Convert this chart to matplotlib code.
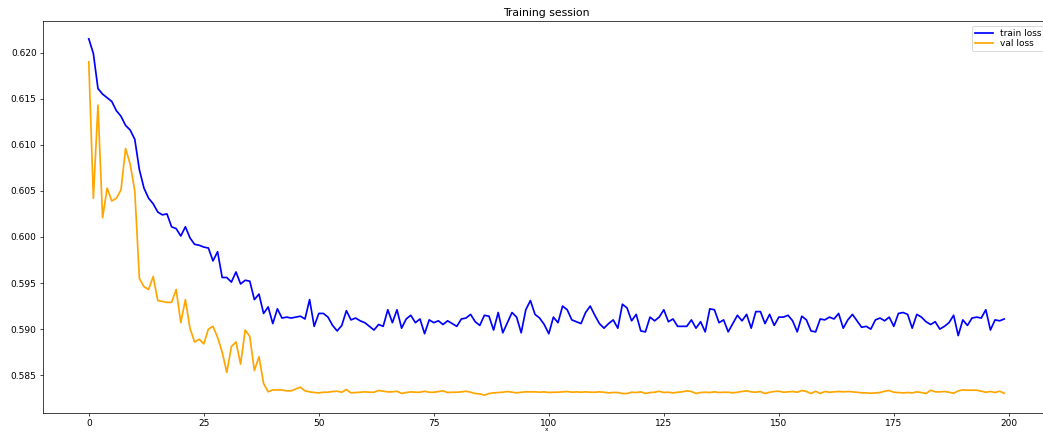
import numpy as np
import matplotlib
matplotlib.use("Agg")
import matplotlib.pyplot as plt

epochs = np.arange(200)

train_loss = [
    0.6215, 0.6199, 0.6161, 0.6155, 0.6151, 0.6147, 0.6137, 0.6131, 0.6121, 0.6116,
    0.6106, 0.6073, 0.6053, 0.6042, 0.6036, 0.6027, 0.6024, 0.6025, 0.6011, 0.6009,
    0.6001, 0.6011, 0.5999, 0.5992, 0.5991, 0.5989, 0.5988, 0.5974, 0.5984, 0.5956,
    0.5956, 0.5951, 0.5962, 0.5949, 0.5953, 0.5952, 0.5932, 0.5938, 0.5917, 0.5924,
    0.5906, 0.5922, 0.5912, 0.5913, 0.5912, 0.5913, 0.5914, 0.5911, 0.5932, 0.5903,
    0.5917, 0.5917, 0.5913, 0.5904, 0.5898, 0.5904, 0.5920, 0.5910, 0.5912, 0.5909,
    0.5907, 0.5903, 0.5899, 0.5905, 0.5903, 0.5921, 0.5907, 0.5921, 0.5901, 0.5911,
    0.5915, 0.5907, 0.5911, 0.5895, 0.5910, 0.5907, 0.5909, 0.5905, 0.5909, 0.5906,
    0.5903, 0.5911, 0.5912, 0.5916, 0.5908, 0.5904, 0.5915, 0.5914, 0.5899, 0.5918,
    0.5896, 0.5907, 0.5918, 0.5913, 0.5896, 0.5921, 0.5931, 0.5916, 0.5912, 0.5905,
    0.5895, 0.5913, 0.5907, 0.5925, 0.5921, 0.5910, 0.5908, 0.5906, 0.5918, 0.5925,
    0.5915, 0.5906, 0.5901, 0.5906, 0.5910, 0.5901, 0.5927, 0.5923, 0.5909, 0.5916,
    0.5898, 0.5897, 0.5913, 0.5909, 0.5913, 0.5921, 0.5908, 0.5911, 0.5903, 0.5903,
    0.5903, 0.5910, 0.5901, 0.5908, 0.5897, 0.5922, 0.5921, 0.5907, 0.5910, 0.5897,
    0.5906, 0.5915, 0.5909, 0.5916, 0.5901, 0.5919, 0.5919, 0.5906, 0.5916, 0.5904,
    0.5913, 0.5913, 0.5915, 0.5909, 0.5897, 0.5914, 0.5910, 0.5898, 0.5897, 0.5911,
    0.5910, 0.5913, 0.5911, 0.5917, 0.5901, 0.5910, 0.5916, 0.5909, 0.5902, 0.5903,
    0.5900, 0.5910, 0.5912, 0.5909, 0.5913, 0.5903, 0.5917, 0.5918, 0.5916, 0.5901,
    0.5916, 0.5913, 0.5908, 0.5905, 0.5908, 0.5900, 0.5903, 0.5907, 0.5915, 0.5893,
    0.5910, 0.5904, 0.5912, 0.5913, 0.5912, 0.5921, 0.5899, 0.5910, 0.5909, 0.5911,
]

val_loss = [
    0.6190, 0.6042, 0.6143, 0.6021, 0.6053, 0.6039, 0.6042, 0.6051, 0.6096, 0.6079,
    0.6050, 0.5955, 0.5946, 0.5943, 0.5957, 0.5931, 0.5930, 0.5929, 0.5929, 0.5943,
    0.5907, 0.5932, 0.5901, 0.5886, 0.5889, 0.5884, 0.5900, 0.5903, 0.5891, 0.5875,
    0.5853, 0.5881, 0.5886, 0.5862, 0.5899, 0.5892, 0.5855, 0.5870, 0.5841, 0.5832,
    0.5834, 0.5834, 0.5834, 0.5833, 0.5833, 0.5835, 0.5837, 0.5833, 0.58319, 0.58312,
    0.58308, 0.58315, 0.58315, 0.58323, 0.58326, 0.58315, 0.58344, 0.58308, 0.58312, 0.58315,
    0.58319, 0.58315, 0.58315, 0.58334, 0.58326, 0.58319, 0.58319, 0.58326, 0.58301, 0.58312,
    0.58319, 0.58315, 0.58315, 0.58326, 0.58315, 0.58315, 0.58323, 0.58330, 0.58312, 0.58315,
    0.58315, 0.58319, 0.58326, 0.58315, 0.58301, 0.58297, 0.58283, 0.58301, 0.58308, 0.58312,
    0.58315, 0.58323, 0.58315, 0.58308, 0.58315, 0.58319, 0.58319, 0.58319, 0.58315, 0.58319,
    0.58312, 0.58315, 0.58315, 0.58319, 0.58323, 0.58315, 0.58319, 0.58315, 0.58319, 0.58315,
    0.58315, 0.58319, 0.58315, 0.58308, 0.58312, 0.58312, 0.58301, 0.58301, 0.58315, 0.58312,
    0.58319, 0.58301, 0.58312, 0.58315, 0.58326, 0.58312, 0.58315, 0.58308, 0.58315, 0.58319,
    0.58330, 0.58323, 0.58301, 0.58312, 0.58315, 0.58312, 0.58319, 0.58312, 0.58315, 0.58315,
    0.58308, 0.58315, 0.58323, 0.58330, 0.58319, 0.58315, 0.58323, 0.58301, 0.58315, 0.58323,
    0.58326, 0.58315, 0.58319, 0.58323, 0.58315, 0.58334, 0.58323, 0.58301, 0.58326, 0.58301,
    0.58323, 0.58315, 0.58319, 0.58323, 0.58319, 0.58323, 0.58319, 0.58315, 0.58308, 0.58308,
    0.58304, 0.58308, 0.58312, 0.58326, 0.58334, 0.58315, 0.58312, 0.58308, 0.58312, 0.58308,
    0.58319, 0.58312, 0.58301, 0.58337, 0.58319, 0.58319, 0.58323, 0.58315, 0.58304, 0.58330,
    0.58341, 0.58337, 0.58337, 0.58337, 0.58326, 0.58315, 0.58323, 0.58312, 0.58326, 0.58304,
]

DPI = 65
fig = plt.figure(figsize=(1043 / DPI, 434 / DPI), dpi=DPI)
ax = fig.add_axes([43 / 1043, 21 / 434, 1007 / 1043, 392 / 434])

ax.plot(epochs, train_loss, color="blue", linewidth=1.9, label="train loss")
ax.plot(epochs, val_loss, color="orange", linewidth=1.9, label="val loss")

ax.set_title("Training session")
ax.set_xlabel("x", labelpad=-1, fontsize=6.5)
ax.legend(loc="upper right", labelspacing=0.15, borderpad=0.3,
          borderaxespad=0.6)

fig.savefig("out.png", dpi=DPI)
